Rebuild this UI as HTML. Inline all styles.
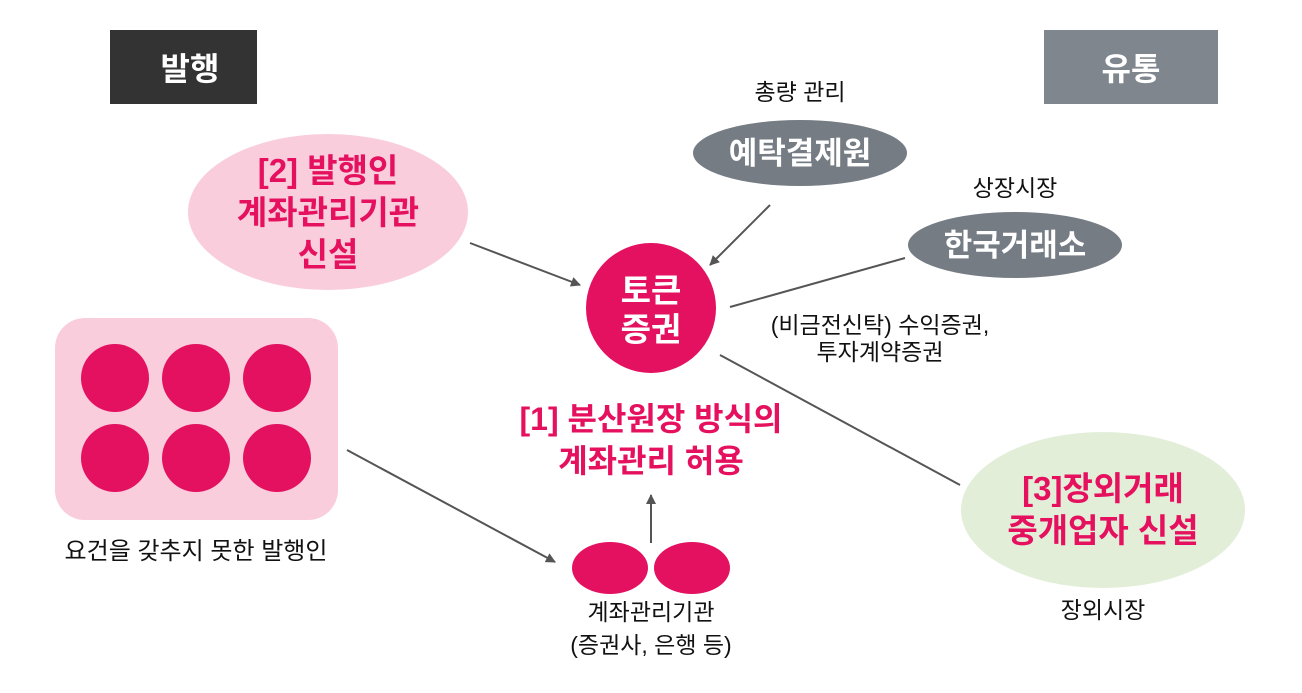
<!DOCTYPE html>
<html><head><meta charset="utf-8"><style>
body{margin:0;background:#fff;}
svg text{font-family:"Liberation Sans","Noto Sans CJK KR",sans-serif;}
</style></head><body>
<svg width="1302" height="688" viewBox="0 0 1302 688" xmlns="http://www.w3.org/2000/svg">
<defs><marker id="a" markerWidth="10" markerHeight="10" refX="9" refY="5" orient="auto" markerUnits="userSpaceOnUse"><path d="M0,0 L10,5 L0,10 Z" fill="#555"/></marker></defs>
<rect x="110" y="30" width="147" height="74" fill="#333"/>
<text x="190" y="80" font-size="32" font-weight="bold" fill="#fff" text-anchor="middle">발행</text>
<rect x="1044" y="30" width="174" height="74" fill="#7f868d"/>
<text x="1131" y="80" font-size="32" font-weight="bold" fill="#fff" text-anchor="middle">유통</text>
<text x="800" y="100" font-size="23" fill="#111" text-anchor="middle">총량 관리</text>
<ellipse cx="800" cy="153" rx="107" ry="33" fill="#757c84"/>
<text x="800" y="164" font-size="31" font-weight="bold" fill="#fff" text-anchor="middle">예탁결제원</text>
<text x="1015" y="196" font-size="23" fill="#111" text-anchor="middle">상장시장</text>
<ellipse cx="1015" cy="245" rx="107" ry="33" fill="#757c84"/>
<text x="1015" y="256" font-size="31" font-weight="bold" fill="#fff" text-anchor="middle">한국거래소</text>
<ellipse cx="328" cy="212" rx="140" ry="78" fill="#f9cddc"/>
<g font-size="33" font-weight="bold" fill="#e5115f" text-anchor="middle">
<text x="328" y="182">[2] 발행인</text><text x="328" y="224">계좌관리기관</text><text x="328" y="266">신설</text></g>
<circle cx="651" cy="308" r="65" fill="#e31160"/>
<text x="651" y="302" font-size="33" font-weight="bold" fill="#fff" text-anchor="middle">토큰</text>
<text x="651" y="341" font-size="33" font-weight="bold" fill="#fff" text-anchor="middle">증권</text>
<rect x="55" y="318" width="283" height="202" rx="30" fill="#f9cddc"/>
<g fill="#e31160"><circle cx="115" cy="378" r="34"/><circle cx="196" cy="378" r="34"/><circle cx="277" cy="378" r="34"/><circle cx="115" cy="458" r="34"/><circle cx="196" cy="458" r="34"/><circle cx="277" cy="458" r="34"/></g>
<text x="196" y="559" font-size="24" fill="#111" text-anchor="middle">요건을 갖추지 못한 발행인</text>
<g font-size="32" font-weight="bold" fill="#e5115f" text-anchor="middle">
<text x="651" y="430">[1] 분산원장 방식의</text><text x="651" y="472">계좌관리 허용</text></g>
<ellipse cx="610" cy="568" rx="38" ry="26" fill="#e31160"/>
<ellipse cx="692" cy="568" rx="38" ry="26" fill="#e31160"/>
<text x="651" y="620" font-size="23" fill="#111" text-anchor="middle">계좌관리기관</text>
<text x="651" y="653" font-size="23" fill="#111" text-anchor="middle">(증권사, 은행 등)</text>
<ellipse cx="1103" cy="510" rx="142" ry="78" fill="#e3eed9"/>
<g font-size="33" font-weight="bold" fill="#e5115f" text-anchor="middle">
<text x="1103" y="500">[3]장외거래</text><text x="1103" y="542">중개업자 신설</text></g>
<text x="1103" y="618" font-size="23" fill="#111" text-anchor="middle">장외시장</text>
<text x="880" y="333" font-size="23" fill="#111" text-anchor="middle">(비금전신탁) 수익증권,</text>
<text x="880" y="360" font-size="23" fill="#111" text-anchor="middle">투자계약증권</text>
<g stroke="#555" stroke-width="2" fill="none">
<line x1="470" y1="243" x2="580" y2="285" marker-end="url(#a)"/>
<line x1="770" y1="205" x2="710" y2="265" marker-end="url(#a)"/>
<line x1="905" y1="258" x2="730" y2="307"/>
<line x1="720" y1="355" x2="960" y2="485"/>
<line x1="347" y1="450" x2="555" y2="562" marker-end="url(#a)"/>
<line x1="651" y1="543" x2="651" y2="495" marker-end="url(#a)"/>
</g>
</svg>
</body></html>
